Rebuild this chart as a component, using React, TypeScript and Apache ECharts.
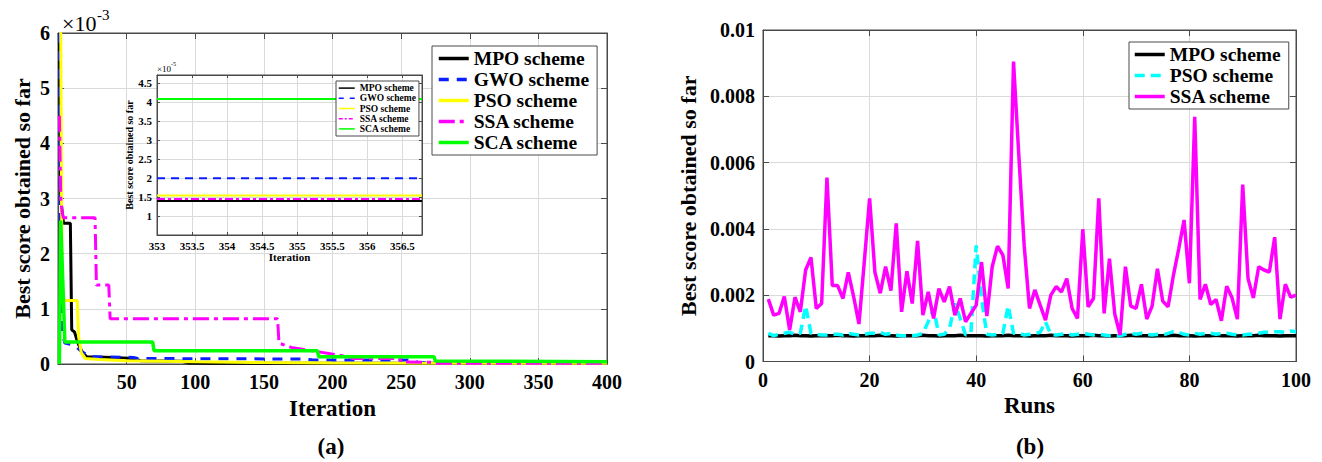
import { useEffect, useRef } from "react";
import * as echarts from "echarts";

const FONT = "'Liberation Serif', 'Times New Roman', serif";

// ---------- Panel (a): convergence curves, [iteration, best score ×10^-3] ----------
const schemesA = ["MPO scheme", "GWO scheme", "PSO scheme", "SSA scheme", "SCA scheme"];
const colorsA = ["#000000", "#0a1eff", "#ffff00", "#ff00ff", "#00ff00"];
const xTicksA = [50, 100, 150, 200, 250, 300, 350, 400];

const mpoA = [[1, 6.0], [2, 3.0], [4, 2.55], [9, 2.55], [10, 0.62], [12, 0.58], [13, 0.5], [15, 0.35], [18, 0.2], [21, 0.13], [40, 0.12], [55, 0.1], [60, 0.06], [90, 0.05], [95, 0.02], [110, 0.015], [400, 0.014]];
const gwoA = [[1, 6.0], [2, 1.6], [3, 0.58], [5, 0.38], [10, 0.35], [13, 0.32], [16, 0.25], [19, 0.2], [22, 0.15], [25, 0.13], [55, 0.12], [58, 0.1], [180, 0.09], [185, 0.075], [260, 0.07], [262, 0.03], [275, 0.02], [400, 0.02]];
const psoA = [[1, 6.0], [2, 6.0], [3, 1.15], [14, 1.15], [15, 0.5], [17, 0.2], [20, 0.1], [30, 0.08], [50, 0.06], [100, 0.04], [150, 0.025], [200, 0.016], [400, 0.0155]];
const ssaA = [[1, 4.5], [2, 3.0], [3, 2.75], [4, 2.65], [27, 2.65], [28, 1.43], [37, 1.43], [38, 0.82], [160, 0.82], [161, 0.38], [170, 0.3], [190, 0.22], [207, 0.15], [215, 0.1], [249, 0.1], [250, 0.04], [273, 0.03], [275, 0.015], [400, 0.0145]];
const scaA = [[1, 0.0], [2, 2.6], [5, 0.4], [69, 0.4], [70, 0.24], [189, 0.24], [190, 0.13], [274, 0.13], [275, 0.055], [400, 0.041]];

// ---------- Inset: final values around iteration 353-357, ×10^-5 ----------
const insetIter = [353, 356.78];
const insetFinal = [1.4, 2.0, 1.54, 1.45, 4.09]; // MPO, GWO, PSO, SSA, SCA

// ---------- Panel (b): best score per run (×10^-3) ----------
const schemesB = ["MPO scheme", "PSO scheme", "SSA scheme"];
const runs = [
  1, 2, 3, 4, 5, 6, 7, 8, 9, 10, 11, 12, 13, 14, 15, 16, 17, 18, 19, 20,
  21, 22, 23, 24, 25, 26, 27, 28, 29, 30, 31, 32, 33, 34, 35, 36, 37, 38, 39, 40,
  41, 42, 43, 44, 45, 46, 47, 48, 49, 50, 51, 52, 53, 54, 55, 56, 57, 58, 59, 60,
  61, 62, 63, 64, 65, 66, 67, 68, 69, 70, 71, 72, 73, 74, 75, 76, 77, 78, 79, 80,
  81, 82, 83, 84, 85, 86, 87, 88, 89, 90, 91, 92, 93, 94, 95, 96, 97, 98, 99, 100,
];
const mpoB = [
  0.78, 0.78, 0.77, 0.78, 0.78, 0.79, 0.78, 0.78, 0.77, 0.78,
  0.78, 0.78, 0.78, 0.79, 0.78, 0.78, 0.77, 0.78, 0.78, 0.78,
  0.78, 0.79, 0.78, 0.78, 0.77, 0.78, 0.78, 0.78, 0.78, 0.79,
  0.78, 0.78, 0.77, 0.78, 0.78, 0.78, 0.79, 0.78, 0.78, 0.78,
  0.78, 0.77, 0.78, 0.78, 0.78, 0.79, 0.78, 0.78, 0.78, 0.77,
  0.78, 0.78, 0.78, 0.79, 0.78, 0.78, 0.78, 0.77, 0.78, 0.78,
  0.78, 0.79, 0.78, 0.78, 0.77, 0.78, 0.78, 0.78, 0.79, 0.78,
  0.78, 0.78, 0.77, 0.78, 0.78, 0.78, 0.79, 0.78, 0.78, 0.78,
  0.77, 0.78, 0.78, 0.78, 0.79, 0.78, 0.78, 0.78, 0.77, 0.78,
  0.78, 0.78, 0.79, 0.78, 0.78, 0.78, 0.77, 0.78, 0.78, 0.78,
];
const psoB = [
  0.85, 0.78, 0.82, 0.85, 0.88, 0.82, 0.85, 1.68, 0.85, 0.82,
  0.8, 0.8, 0.82, 0.82, 0.8, 0.85, 0.82, 0.8, 0.82, 0.85,
  0.85, 0.88, 0.82, 0.85, 0.8, 0.78, 0.78, 0.78, 0.8, 0.85,
  1.2, 1.6, 0.8, 0.82, 1.0, 1.75, 1.3, 0.8, 0.85, 3.5,
  1.9, 0.82, 0.8, 0.82, 0.85, 1.68, 0.85, 0.85, 0.8, 0.82,
  0.85, 0.88, 1.2, 0.82, 0.8, 0.82, 0.85, 0.8, 0.82, 0.85,
  0.82, 0.8, 0.82, 0.8, 0.78, 0.78, 0.78, 0.82, 0.85, 0.82,
  0.85, 0.82, 0.8, 0.82, 0.8, 0.85, 0.9, 0.88, 0.82, 0.8,
  0.85, 0.82, 0.85, 0.85, 0.82, 0.85, 0.85, 0.82, 0.8, 0.8,
  0.82, 0.82, 0.85, 0.88, 0.88, 0.9, 0.9, 0.88, 0.92, 0.9,
];
const ssaB = [
  1.88, 1.4, 1.45, 1.96, 0.95, 1.94, 1.5, 2.76, 3.14, 1.6,
  1.75, 5.55, 2.29, 2.29, 1.9, 2.69, 1.96, 1.13, 3.0, 4.92,
  2.69, 2.06, 2.86, 2.14, 4.17, 1.5, 2.72, 1.75, 3.64, 1.4,
  2.1, 1.3, 2.2, 1.8, 2.26, 1.4, 1.9, 1.2, 1.45, 1.7,
  3.0, 1.37, 2.86, 3.48, 3.21, 2.2, 9.05, 6.2, 3.5, 1.6,
  2.16, 1.7, 1.25, 2.0, 2.26, 2.1, 2.5, 1.6, 1.3, 3.99,
  1.65, 1.9, 4.92, 1.45, 3.1, 1.43, 0.8, 2.86, 1.67, 1.6,
  2.33, 1.28, 1.67, 2.8, 1.82, 1.65, 2.6, 3.4, 4.27, 2.36,
  7.38, 1.87, 2.33, 1.72, 1.87, 1.23, 2.27, 1.92, 1.28, 5.34,
  2.5, 1.92, 2.86, 2.76, 2.7, 3.75, 1.28, 2.33, 1.94, 2.0,
];

const lineTypesA: any[] = ["solid", [10, 8], "solid", [16, 5, 4, 5], "solid"];
const widthsA = [3, 3, 3, 3, 3.5];

const AXIS_COLOR = "#4a4a4a";
const GRID_COLOR = "#dadada";

const isHalf = (v: number) => Math.abs(v * 2 - Math.round(v * 2)) < 1e-6;

function mirror(gridIndex: number, position: string, min: number, max: number, interval: number, tickLen: number, z = 0) {
  return {
    type: "value",
    gridIndex,
    position,
    min,
    max,
    interval,
    z,
    axisLine: { show: true, onZero: false, lineStyle: { color: AXIS_COLOR, width: 1 } },
    axisTick: { show: true, inside: true, length: tickLen, lineStyle: { color: AXIS_COLOR } },
    axisLabel: { show: false },
    splitLine: { show: false },
  };
}

export default function App() {
  const ref = useRef<HTMLDivElement>(null);

  useEffect(() => {
    if (!ref.current) return;
    const chart = echarts.init(ref.current, undefined, { renderer: "svg" });

    const labelStyle = (size: number) => ({ fontSize: size, fontWeight: "bold", fontFamily: FONT, color: "#000" });
    const hiddenSymbol = { opacity: 0, borderWidth: 0, color: "transparent", borderColor: "transparent" };

    const seriesA = schemesA.map((name, i) => ({
      type: "line",
      name,
      xAxisIndex: 0,
      yAxisIndex: 0,
      data: [mpoA, gwoA, psoA, ssaA, scaA][i],
      symbol: "none",
      z: 2,
      lineStyle: { color: colorsA[i], width: widthsA[i], type: lineTypesA[i] },
      itemStyle: { color: colorsA[i] },
    }));

    const seriesInset = schemesA.map((name, i) => ({
      type: "line",
      name,
      xAxisIndex: 2,
      yAxisIndex: 2,
      data: insetIter.map((x) => [x, insetFinal[i]]),
      symbol: "none",
      z: 6,
      lineStyle: { color: colorsA[i], width: 2, type: i === 1 ? [8, 6] : i === 3 ? [8, 3, 3, 3] : "solid" },
      itemStyle: { color: colorsA[i] },
    }));

    const colorsB = ["#000000", "#00ffff", "#ff00ff"];
    const typesB: any[] = ["solid", [10, 6], "solid"];
    const seriesB = schemesB.map((name, i) => ({
      type: "line",
      name,
      xAxisIndex: 4,
      yAxisIndex: 4,
      data: runs.map((r, k) => [r, [mpoB, psoB, ssaB][i][k]]),
      symbol: "none",
      z: 2,
      lineStyle: { color: colorsB[i], width: 3.5, type: typesB[i] },
      itemStyle: { color: colorsB[i] },
    }));

    const option: any = {
      animation: false,
      backgroundColor: "#ffffff",
      grid: [
        { left: 58, top: 33, width: 549, height: 331, show: true, borderColor: AXIS_COLOR, borderWidth: 1, backgroundColor: "transparent", z: 0 },
        { left: 157, top: 75, width: 265, height: 160, show: true, borderColor: AXIS_COLOR, borderWidth: 1, backgroundColor: "#ffffff", z: 3 },
        { left: 763, top: 30, width: 533, height: 331.5, show: true, borderColor: AXIS_COLOR, borderWidth: 1, backgroundColor: "transparent", z: 0 },
      ],
      xAxis: [
        {
          type: "value", gridIndex: 0, position: "bottom", min: 0, max: 400, interval: 50,
          axisLine: { show: true, onZero: false, lineStyle: { color: AXIS_COLOR } },
          axisTick: { inside: true, length: 6, lineStyle: { color: AXIS_COLOR } },
          axisLabel: { ...labelStyle(20), margin: 8, formatter: (v: number) => (xTicksA.includes(v) ? String(v) : "") },
          splitLine: { show: true, lineStyle: { color: GRID_COLOR, width: 1 } },
          name: "Iteration", nameLocation: "middle", nameGap: 30, nameTextStyle: labelStyle(23),
        },
        mirror(0, "top", 0, 400, 50, 6),
        {
          type: "value", gridIndex: 1, position: "bottom", min: 353, max: 356.78, interval: 0.5, z: 4,
          axisLine: { show: true, onZero: false, lineStyle: { color: AXIS_COLOR } },
          axisTick: { inside: true, length: 3, lineStyle: { color: AXIS_COLOR } },
          axisLabel: { ...labelStyle(11), margin: 5, formatter: (v: number) => (isHalf(v) && v < 356.7 ? String(v) : "") },
          splitLine: { show: true, lineStyle: { color: GRID_COLOR } },
          name: "Iteration", nameLocation: "middle", nameGap: 16, nameTextStyle: labelStyle(11),
        },
        mirror(1, "top", 353, 356.78, 0.5, 3, 4),
        {
          type: "value", gridIndex: 2, position: "bottom", min: 0, max: 100, interval: 20,
          axisLine: { show: true, onZero: false, lineStyle: { color: AXIS_COLOR } },
          axisTick: { inside: true, length: 6, lineStyle: { color: AXIS_COLOR } },
          axisLabel: { ...labelStyle(20), margin: 8 },
          splitLine: { show: true, lineStyle: { color: GRID_COLOR } },
          name: "Runs", nameLocation: "middle", nameGap: 30, nameTextStyle: labelStyle(23),
        },
        mirror(2, "top", 0, 100, 20, 6),
      ],
      yAxis: [
        {
          type: "value", gridIndex: 0, position: "left", min: 0, max: 6, interval: 1,
          axisLine: { show: true, onZero: false, lineStyle: { color: AXIS_COLOR } },
          axisTick: { inside: true, length: 6, lineStyle: { color: AXIS_COLOR } },
          axisLabel: { ...labelStyle(20), margin: 8 },
          splitLine: { show: true, lineStyle: { color: GRID_COLOR } },
          name: "Best score obtained so far", nameLocation: "middle", nameGap: 25, nameTextStyle: labelStyle(22),
        },
        mirror(0, "right", 0, 6, 1, 6),
        {
          type: "value", gridIndex: 1, position: "left", min: 0.5, max: 4.72, interval: 0.5, z: 4,
          axisLine: { show: true, onZero: false, lineStyle: { color: AXIS_COLOR } },
          axisTick: { inside: true, length: 3, lineStyle: { color: AXIS_COLOR } },
          axisLabel: { ...labelStyle(11), margin: 5, formatter: (v: number) => (isHalf(v) && v > 0.9 ? String(v) : "") },
          splitLine: { show: true, lineStyle: { color: GRID_COLOR } },
          name: "Best score obtained so far", nameLocation: "middle", nameGap: 19, nameTextStyle: labelStyle(10),
        },
        mirror(1, "right", 0.5, 4.72, 0.5, 3, 4),
        {
          type: "value", gridIndex: 2, position: "left", min: 0, max: 10, interval: 2,
          axisLine: { show: true, onZero: false, lineStyle: { color: AXIS_COLOR } },
          axisTick: { inside: true, length: 6, lineStyle: { color: AXIS_COLOR } },
          axisLabel: { ...labelStyle(20), margin: 8, formatter: (v: number) => (v === 0 ? "0" : String(v / 1000)) },
          splitLine: { show: true, lineStyle: { color: GRID_COLOR } },
          name: "Best score obtained so far", nameLocation: "middle", nameGap: 64, nameTextStyle: labelStyle(22),
        },
        mirror(2, "right", 0, 10, 2, 6),
      ],
      legend: [
        {
          orient: "vertical", left: 432, top: 46, selectedMode: false,
          itemWidth: 30, itemHeight: 14, itemGap: 0, padding: [2, 8, 2, 5],
          borderColor: AXIS_COLOR, borderWidth: 1, backgroundColor: "#ffffff",
          textStyle: { ...labelStyle(19.5), lineHeight: 21 },
          itemStyle: hiddenSymbol,
          data: schemesA.map((name, i) => ({ name, lineStyle: { color: colorsA[i], width: 3.5, type: lineTypesA[i] }, itemStyle: hiddenSymbol })),
        },
        {
          orient: "vertical", left: 336, top: 81, selectedMode: false, z: 8,
          itemWidth: 16, itemHeight: 6, itemGap: 0, padding: [2, 3, 2, 2],
          borderColor: AXIS_COLOR, borderWidth: 1, backgroundColor: "#ffffff",
          textStyle: { ...labelStyle(9.5), lineHeight: 10.2 },
          itemStyle: hiddenSymbol,
          data: schemesA.map((name, i) => ({ name, lineStyle: { color: colorsA[i], width: 1.5, type: i === 1 ? [5, 6] : i === 3 ? [4, 2, 2, 2] : "solid" }, itemStyle: hiddenSymbol })),
        },
        {
          orient: "vertical", left: 1129, top: 42, selectedMode: false,
          itemWidth: 30, itemHeight: 14, itemGap: 0, padding: [2, 8, 2, 4],
          borderColor: AXIS_COLOR, borderWidth: 1, backgroundColor: "#ffffff",
          textStyle: { ...labelStyle(19.5), lineHeight: 21 },
          itemStyle: hiddenSymbol,
          data: schemesB.map((name, i) => ({ name, lineStyle: { color: colorsB[i], width: 3.5, type: typesB[i] }, itemStyle: hiddenSymbol })),
        },
      ],
      graphic: [
        { type: "text", x: 62, y: 12, z: 10, style: { text: "×10", fontSize: 22, fontFamily: FONT, fill: "#000" } },
        { type: "text", x: 97, y: 7, z: 10, style: { text: "-3", fontSize: 15, fontFamily: FONT, fill: "#000" } },
        { type: "text", x: 157, y: 64, z: 10, style: { text: "×10", fontSize: 9, fontFamily: FONT, fill: "#000" } },
        { type: "text", x: 171, y: 61, z: 10, style: { text: "-5", fontSize: 6, fontFamily: FONT, fill: "#000" } },
        { type: "text", x: 331, y: 446, z: 10, style: { text: "(a)", fontSize: 23, fontWeight: "bold", fontFamily: FONT, fill: "#000", align: "center", verticalAlign: "middle", textAlign: "center", textVerticalAlign: "middle" } },
        { type: "text", x: 1030, y: 446, z: 10, style: { text: "(b)", fontSize: 23, fontWeight: "bold", fontFamily: FONT, fill: "#000", align: "center", verticalAlign: "middle", textAlign: "center", textVerticalAlign: "middle" } },
      ],
      series: [...seriesA, ...seriesInset, ...seriesB],
    };

    chart.setOption(option);
    return () => chart.dispose();
  }, []);

  return <div ref={ref} style={{ position: "fixed", left: 0, top: 0, width: 1322, height: 462, background: "#fff" }} />;
}
